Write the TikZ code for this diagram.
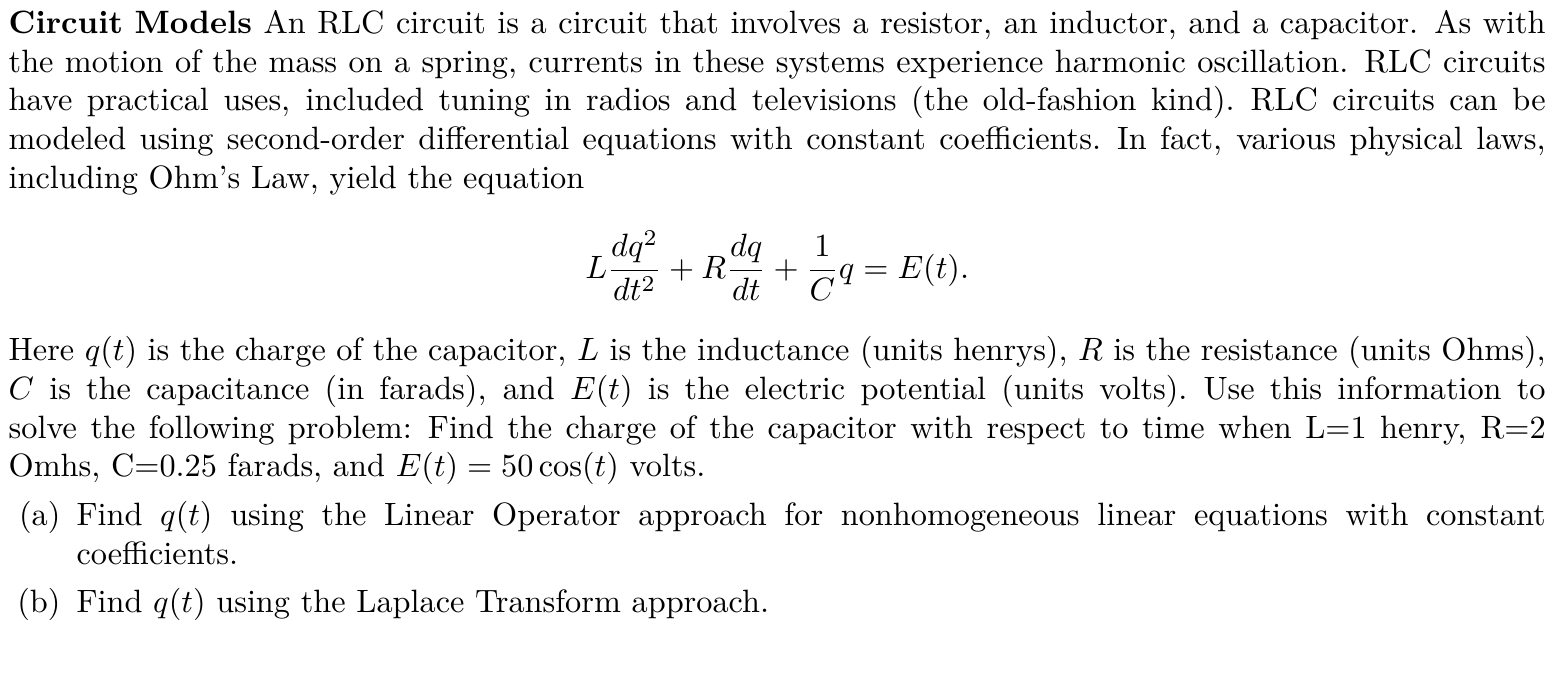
\documentclass[tikz,border=0pt]{standalone}
\usepackage{amsmath}
\usepackage{enumitem}
\begin{document}
\begin{tikzpicture}
\useasboundingbox (0,0) rectangle (485pt,-213.1pt);
\node[anchor=north west,inner sep=0pt,text width=476pt] (txt) at (2.5pt,-3pt) {%
\begin{minipage}{476pt}
\setlength{\parindent}{0pt}\hyphenpenalty=10000
\spaceskip=3.33pt plus 3pt minus 1.6pt\relax
\textbf{Circuit Models} An RLC circuit is a circuit that involves a resistor, an inductor, and a capacitor. As with\linebreak the motion of the mass on a spring, currents in these systems experience harmonic oscillation. RLC circuits\linebreak have practical uses, included tuning in radios and televisions (the old-fashion kind). RLC circuits can be\linebreak modeled using second-order differential equations with constant coefficients. In fact, various physical laws,\linebreak including Ohm's Law, yield the equation
\[ L\frac{dq^2}{dt^2}+R\frac{dq}{dt}+\frac{1}{C}q=E(t). \]
Here $q(t)$ is the charge of the capacitor, $L$ is the inductance (units henrys), $R$ is the resistance (units Ohms),\linebreak $C$ is the capacitance (in farads), and $E(t)$ is the electric potential (units volts). Use this information to\linebreak solve the following problem: Find the charge of the capacitor with respect to time when L=1 henry, R=2\linebreak Omhs, C=0.25 farads, and $E(t)=50\cos(t)$ volts.
\begin{enumerate}[label=(\alph*),leftmargin=21pt,topsep=3pt,itemsep=3pt,parsep=0pt]
\item Find $q(t)$ using the Linear Operator approach for nonhomogeneous linear equations with constant\linebreak coefficients.
\item Find $q(t)$ using the Laplace Transform approach.
\end{enumerate}
\end{minipage}};
\end{tikzpicture}
\end{document}
